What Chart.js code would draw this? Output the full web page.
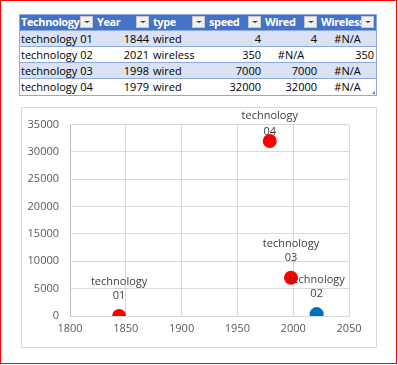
<!DOCTYPE html>
<html>
<head>
<meta charset="utf-8">
<script src="https://cdn.jsdelivr.net/npm/chart.js@4"></script>
<style>
  body { margin: 0; background: #fff; width: 398px; height: 365px; overflow: hidden; }
  #frame { position: absolute; left: 0; top: 0; width: 395px; height: 362px; border: 1px solid #ff0000; }
  #tbl { position: absolute; left: 19px; top: 14px; width: 357px; border-collapse: collapse; table-layout: fixed;
         font-family: "Open Sans", sans-serif; font-size: 11px; color: #000; }
  #tbl th, #tbl td { height: 16px; padding: 0 2px; line-height: 15px; white-space: nowrap; overflow: hidden; box-sizing: border-box; }
  #tbl th { background: #4472C4; color: #fff; font-weight: bold; text-align: left; position: relative; padding-right: 0; letter-spacing: -0.4px; }
  #tbl td { border-top: 1px solid #8EA9DB; }
  #tbl tr.odd td { background: #D9E1F2; }
  #tbl .num { text-align: right; }
  #tbl .na { text-align: center; }
  .btn { position: absolute; right: 2px; top: 2px; width: 11px; height: 10px; background: #f0f0f0;
         border: 1px solid #c8c8c8; }
  .btn::after { content: ""; position: absolute; left: 3px; top: 4px; border-left: 3px solid transparent;
         border-right: 3px solid transparent; border-top: 2px solid #404040; }
  #tblbox { position: absolute; left: 19px; top: 14px; width: 356px; height: 80px; border: 1px solid #8EA9DB; pointer-events: none; }
  #handle { position: absolute; left: 372px; top: 91px; width: 0; height: 0; border-left: 3px solid transparent; border-bottom: 3px solid #4472C4; }
  #box { position: absolute; left: 21px; top: 107px; width: 354px; height: 239px; border: 1px solid #D9D9D9; }
  #wrap { position: absolute; left: 21px; top: 107px; width: 356px; height: 241px; }
</style>
</head>
<body>
<div id="frame"></div>
<table id="tbl"><colgroup>
  <col style="width:76px"><col style="width:56px"><col style="width:56px"><col style="width:56px"><col style="width:56px"><col style="width:57px">
</colgroup><thead><tr id="head"></tr></thead><tbody id="body"></tbody></table>
<div id="tblbox"></div>
<div id="handle"></div>
<div id="box"></div>
<div id="wrap"><canvas id="chart"></canvas></div>
<script>
// dados da tabela
const headers = ['Technology', 'Year', 'type', 'speed', 'Wired', 'Wireless'];
const names = ['technology 01', 'technology 02', 'technology 03', 'technology 04'];
const years = [1844, 2021, 1998, 1979];
const types = ['wired', 'wireless', 'wired', 'wired'];
const speeds = [4, 350, 7000, 32000];
const wired = [4, null, 7000, 32000];
const wireless = [null, 350, null, null];

// eixos
const xTicks = [1800, 1850, 1900, 1950, 2000, 2050];
const yTicks = [0, 5000, 10000, 15000, 20000, 25000, 30000, 35000];

// montar tabela
const head = document.getElementById('head');
headers.forEach(function(h) {
    head.innerHTML += `<th>${h}<span class="btn"></span></th>`;
});
const body = document.getElementById('body');
names.forEach(function(n, i) {
    const cell = v => v == null ? '<td class="na">#N/A</td>' : `<td class="num">${v}</td>`;
    body.innerHTML += `<tr class="${i % 2 === 0 ? 'odd' : ''}"><td>${n}</td><td class="num">${years[i]}</td>` +
        `<td>${types[i]}</td><td class="num">${speeds[i]}</td>${cell(wired[i])}${cell(wireless[i])}</tr>`;
});

function points(values) {
    const out = [];
    values.forEach(function(v, i) {
        if (v != null) out.push({ x: years[i], y: v, name: names[i] });
    });
    return out;
}

// rótulos de dados
const labelPlugin = {
    id: 'labels',
    afterDatasetsDraw(chart) {
        const ctx = chart.ctx;
        ctx.save();
        ctx.font = '11px "Open Sans"';
        ctx.fillStyle = '#404040';
        ctx.textAlign = 'center';
        ctx.textBaseline = 'middle';
        chart.data.datasets.forEach(function(ds, di) {
            chart.getDatasetMeta(di).data.forEach(function(el, i) {
                const lines = ds.data[i].name.split(' ');
                let y1 = el.y - 34;
                let gap = 14;
                if (y1 < 9) { y1 = 9; gap = 16; }
                ctx.fillText(lines[0], el.x, y1);
                ctx.fillText(lines[1], el.x, y1 + gap);
            });
        });
        ctx.restore();
    }
};

const tickFont = { family: 'Open Sans', size: 11 };

new Chart(document.getElementById('chart'), {
    type: 'scatter',
    data: {
        datasets: [
            { label: 'Wired', data: points(wired), backgroundColor: '#FF0000', borderWidth: 0, pointRadius: 7, pointHoverRadius: 7 },
            { label: 'Wireless', data: points(wireless), backgroundColor: '#0070C0', borderWidth: 0, pointRadius: 7, pointHoverRadius: 7 }
        ]
    },
    options: {
        responsive: true,
        maintainAspectRatio: false,
        animation: false,
        layout: { padding: { top: 15, right: 28, left: 0, bottom: 0 } },
        plugins: { legend: { display: false }, tooltip: { enabled: false } },
        scales: {
            x: {
                min: xTicks[0], max: xTicks[xTicks.length - 1],
                afterBuildTicks: s => { s.ticks = xTicks.map(v => ({ value: v })); },
                afterFit: s => { s.height = 32; },
                grid: { color: '#D9D9D9', drawTicks: false },
                border: { color: '#D9D9D9' },
                ticks: { color: '#595959', font: tickFont, padding: 6, maxRotation: 0, callback: v => String(v) }
            },
            y: {
                min: yTicks[0], max: yTicks[yTicks.length - 1],
                afterBuildTicks: s => { s.ticks = yTicks.map(v => ({ value: v })); },
                afterFit: s => { s.width = 49; },
                grid: { color: '#D9D9D9', drawTicks: false },
                border: { color: '#BFBFBF' },
                ticks: { color: '#595959', font: tickFont, padding: 11, callback: v => String(v) }
            }
        }
    },
    plugins: [labelPlugin]
});
</script>
</body>
</html>
